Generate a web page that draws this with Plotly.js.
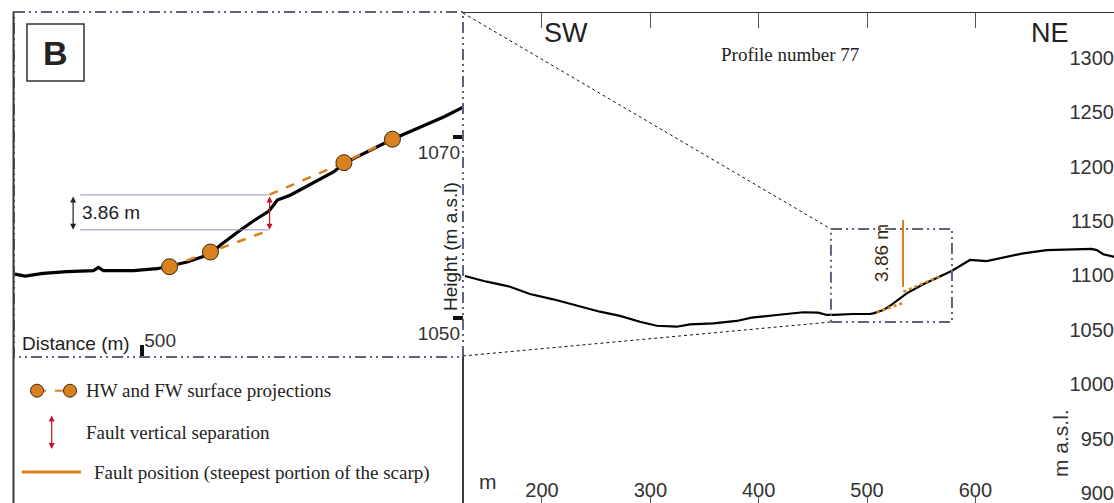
<!DOCTYPE html>
<html><head><meta charset="utf-8">
<script src="https://cdn.plot.ly/plotly-3.0.1.min.js"></script>
<style>html,body{margin:0;padding:0;overflow:hidden;background:#fff;width:1114px;height:503px}#chart{width:1117px;height:512px}</style>
</head><body><div id="chart"></div>
<script>
// ---- Main profile (profile number 77) ----
const mainDist = [128.9,149.0,170.5,188.9,210.4,228.9,253.5,272.0,290.4,305.9,324.3,336.6,358.1,379.7,393.5,416.6,441.2,455.0,462.8,468.9,487.3,502.7,505.8,515.0,521.2,536.6,551.9,578.1,595.0,610.4,625.8,644.2,665.8,687.3,707.3,712.0,718.0,727.3,740.0];
const mainHeight = [1099.5,1094.3,1089.7,1083.0,1078.1,1072.9,1066.7,1062.8,1057.5,1053.8,1052.9,1055.1,1056.0,1058.2,1061.2,1063.7,1066.2,1065.8,1063.7,1063.7,1064.6,1064.6,1065.2,1068.3,1072.0,1083.6,1091.9,1104.1,1114.3,1113.3,1116.4,1120.4,1123.4,1124.1,1124.4,1123.4,1119.5,1117.3,1116.5];
// HW / FW surface projections on main profile (lower, gap, upper)
const mainProjX = [508.9,535.0,null,533.5,568.9];
const mainProjY = [1066.2,1075.4,null,1085.1,1099.8];
// fault position (steepest portion of the scarp)
const mainFaultX = [533.2,533.2];
const mainFaultY = [1089.4,1151.0];
const mainLabelPos = {x:513.8, y:1120.7};
// zoom window drawn on main profile
const zoomBoxX = [466.7,578.4];
const zoomBoxY = [1057.2,1142.8];
// connector anchors on the main axes (left panel edge)
const panelEdgeX = 127.1, panelTopY = 1341.4, panelBottomY = 1026.0;
const mainXRange = [126.2,730.7];
const mainYRange = [882.5,1341.4];
const mainTickVals = [200,300,400,500,600,700];
const mainTickText = ['200','300','400','500','600',''];

// ---- Inset B (zoom on the scarp) ----
const insetDist = [468.25,470.75,475.25,481.2,487.8,489.1,490.3,497.8,503.7,507.0,511.2,517.0,519.5,524.5,527.8,531.6,533.7,537.0,542.8,547.8,550.3,556.2,562.4,568.7,575.3,580.3];
const insetHeight = [1054.86,1054.64,1054.94,1055.12,1055.23,1055.60,1055.23,1055.23,1055.45,1055.75,1056.19,1057.07,1058.07,1059.72,1060.75,1061.82,1063.04,1063.59,1064.95,1066.17,1067.09,1068.38,1069.75,1070.96,1072.24,1073.35];
const pointsX = [506.8,517.0,550.3,562.4];
const pointsY = [1055.67,1057.29,1067.16,1069.75];
const projX = [506.8,517.0,532.0,null,562.4,550.3,531.6];
const projY = [1055.67,1057.29,1059.74,null,1069.75,1067.16,1063.60];
const sepX = 531.75, sepLow = 1059.74, sepHigh = 1063.60;
const sepLabel = '3.86 m';
const guideX = [484.5,531.5];
const measureArrowX = 482.75;
const insetXRange = [468,580];
const insetYRange = [1045.7,1083.8];
const insetXTicks = [500];
const insetYTicks = [1050,1070];

const W = 1117, H = 512;
const SANS = 'Liberation Sans, Arial, sans-serif';
const SERIF = 'Liberation Serif, Times New Roman, serif';
const ORANGE = '#d9801f';
const RED = '#c8102e';
const FRAME = '#62627a';
const DASHDOT = '11px,4px,2px,4px,2px,4px';

const traces = [
  {x:mainDist, y:mainHeight, xaxis:'x', yaxis:'y', mode:'lines', line:{color:'#000', width:2.2}, hoverinfo:'skip'},
  {x:mainProjX, y:mainProjY, xaxis:'x', yaxis:'y', mode:'lines', line:{color:ORANGE, width:2.5, dash:'dot'}, connectgaps:false, hoverinfo:'skip'},
  {x:mainFaultX, y:mainFaultY, xaxis:'x', yaxis:'y', mode:'lines', line:{color:ORANGE, width:2}, hoverinfo:'skip'},
  {x:insetDist, y:insetHeight, xaxis:'x2', yaxis:'y2', mode:'lines', line:{color:'#000', width:3.2}, hoverinfo:'skip'},
  {x:projX, y:projY, xaxis:'x2', yaxis:'y2', mode:'lines', line:{color:ORANGE, width:2.5, dash:'dash'}, connectgaps:false, hoverinfo:'skip'},
  {x:pointsX, y:pointsY, xaxis:'x2', yaxis:'y2', mode:'markers', marker:{size:16, color:ORANGE, line:{color:'#3a2a10', width:1}}, hoverinfo:'skip', cliponaxis:false},
  // legend symbols
  {x:[37,70], y:[390.7,390.7], xaxis:'x3', yaxis:'y3', mode:'lines+markers', line:{color:ORANGE, width:2, dash:'dash'}, marker:{size:13, color:ORANGE, line:{color:'#3a2a10', width:1}}, hoverinfo:'skip'},
  {x:[21.7,81], y:[472,472], xaxis:'x3', yaxis:'y3', mode:'lines', line:{color:ORANGE, width:3}, hoverinfo:'skip'}
];

const A = (o) => Object.assign({showarrow:false, xanchor:'center', yanchor:'middle', borderpad:0, xref:'x3', yref:'y3'}, o);
const arrow = (o) => Object.assign({showarrow:true, text:'', arrowhead:2, arrowside:'end+start', arrowsize:1, arrowwidth:1.2}, o);

const annotations = [
  A({x:566, y:33, text:'SW', font:{family:SANS, size:27, color:'#222'}}),
  A({x:1050, y:33, text:'NE', font:{family:SANS, size:27, color:'#222'}}),
  A({x:790, y:54, text:'Profile number 77', font:{family:SERIF, size:19, color:'#222'}}),
  A({x:488, y:481, text:'m', font:{family:SANS, size:21, color:'#333'}}),
  A({x:1060, y:443, text:'m a.s.l.', textangle:-90, font:{family:SANS, size:21, color:'#333'}}),
  A({x:mainLabelPos.x, y:mainLabelPos.y, xref:'x', yref:'y', text:sepLabel, textangle:-90, font:{family:SANS, size:19, color:'#3b2a10'}}),
  A({x:55.5, y:52.5, text:'<b>B</b>', font:{family:SANS, size:34, color:'#222'}}),
  A({x:21, y:343, xanchor:'left', text:'Distance (m)', font:{family:SANS, size:19, color:'#222'}}),
  A({x:450, y:247, text:'Height (m a.s.l)', textangle:-90, font:{family:SANS, size:19, color:'#222'}}),
  A({x:guideX[0]+0.1, y:(sepLow+sepHigh)/2, xref:'x2', yref:'y2', xanchor:'left', text:sepLabel, font:{family:SANS, size:19, color:'#222'}}),
  arrow({x:sepX, y:sepLow, ax:sepX, ay:sepHigh, xref:'x2', yref:'y2', axref:'x2', ayref:'y2', arrowcolor:RED}),
  arrow({x:measureArrowX, y:sepLow, ax:measureArrowX, ay:sepHigh, xref:'x2', yref:'y2', axref:'x2', ayref:'y2', arrowcolor:'#222'}),
  // legend
  A({x:85, y:390, xanchor:'left', text:'HW and FW surface projections', font:{family:SERIF, size:19, color:'#222'}}),
  A({x:85, y:432, xanchor:'left', text:'Fault vertical separation', font:{family:SERIF, size:19, color:'#222'}}),
  A({x:93, y:473, xanchor:'left', text:'Fault position (steepest portion of the scarp)', font:{family:SERIF, size:19, color:'#222'}}),
  arrow({x:51.7, y:449, ax:51.7, ay:414, xref:'x3', yref:'y3', axref:'x3', ayref:'y3', arrowcolor:RED})
];

const shapes = [
  {type:'rect', xref:'x3', yref:'y3', x0:14, x1:463, y0:12, y1:357, line:{color:FRAME, width:2, dash:DASHDOT}},
  {type:'line', xref:'x3', yref:'y3', x0:13.5, x1:13.5, y0:12, y1:H, line:{color:'#3a3a3a', width:2}},
  {type:'line', xref:'x3', yref:'y3', x0:463, x1:463, y0:357, y1:H, line:{color:'#3a3a3a', width:2}},
  {type:'rect', xref:'x3', yref:'y3', x0:27, x1:84, y0:24, y1:81, line:{color:'#333', width:1.5}},
  {type:'rect', xref:'x', yref:'y', x0:zoomBoxX[0], x1:zoomBoxX[1], y0:zoomBoxY[0], y1:zoomBoxY[1], line:{color:FRAME, width:2, dash:DASHDOT}},
  {type:'line', xref:'x', yref:'y', x0:panelEdgeX, y0:panelTopY, x1:zoomBoxX[0], y1:zoomBoxY[1], line:{color:'#111', width:1, dash:'dot'}},
  {type:'line', xref:'x', yref:'y', x0:panelEdgeX, y0:panelBottomY, x1:zoomBoxX[0], y1:zoomBoxY[0], line:{color:'#111', width:1, dash:'dot'}},
  {type:'line', xref:'x2', yref:'y2', x0:guideX[0], x1:guideX[1], y0:sepHigh, y1:sepHigh, line:{color:'#8f8fc8', width:1}},
  {type:'line', xref:'x2', yref:'y2', x0:guideX[0], x1:guideX[1], y0:sepLow, y1:sepLow, line:{color:'#8f8fc8', width:1}}
];

const tf = (s) => ({family:SANS, size:s, color:'#333'});
const layout = {
  width:W, height:H, margin:{l:0, r:0, t:0, b:0},
  paper_bgcolor:'#fff', plot_bgcolor:'rgba(0,0,0,0)', showlegend:false,
  xaxis:{domain:[462/W,1], range:mainXRange, anchor:'y', tickmode:'array', tickvals:mainTickVals, ticktext:mainTickText,
    ticks:'inside', ticklen:15, tickcolor:'#555', showline:true, linecolor:'#333', linewidth:1.5, mirror:'ticks',
    ticklabelposition:'outside', ticklabelstandoff:-41, tickfont:tf(20), showgrid:false, zeroline:false, fixedrange:true, automargin:false},
  yaxis:{domain:[0,1-13/H], range:mainYRange, anchor:'x', side:'right', tick0:0, dtick:50, ticks:'',
    ticklabelposition:'inside', tickfont:tf(20), showgrid:false, zeroline:false, showline:false, fixedrange:true},
  xaxis2:{domain:[14/W,463/W], range:insetXRange, anchor:'y2', tickmode:'array', tickvals:insetXTicks,
    ticks:'inside', ticklen:12, tickwidth:4, tickcolor:'#111', ticklabelposition:'inside right', tickfont:tf(19),
    showgrid:false, zeroline:false, showline:false, fixedrange:true},
  yaxis2:{domain:[1-357/H,1-12/H], range:insetYRange, anchor:'x2', side:'right', tickmode:'array', tickvals:insetYTicks,
    ticks:'inside', ticklen:10, tickwidth:4, tickcolor:'#111', ticklabelposition:'inside bottom', tickfont:tf(19),
    showgrid:false, zeroline:false, showline:false, fixedrange:true},
  xaxis3:{domain:[0,1], range:[0,W], anchor:'y3', visible:false, fixedrange:true},
  yaxis3:{domain:[0,1], range:[H,0], anchor:'x3', visible:false, fixedrange:true},
  shapes:shapes, annotations:annotations
};
Plotly.newPlot('chart', traces, layout, {displayModeBar:false, staticPlot:true});
</script></body></html>
